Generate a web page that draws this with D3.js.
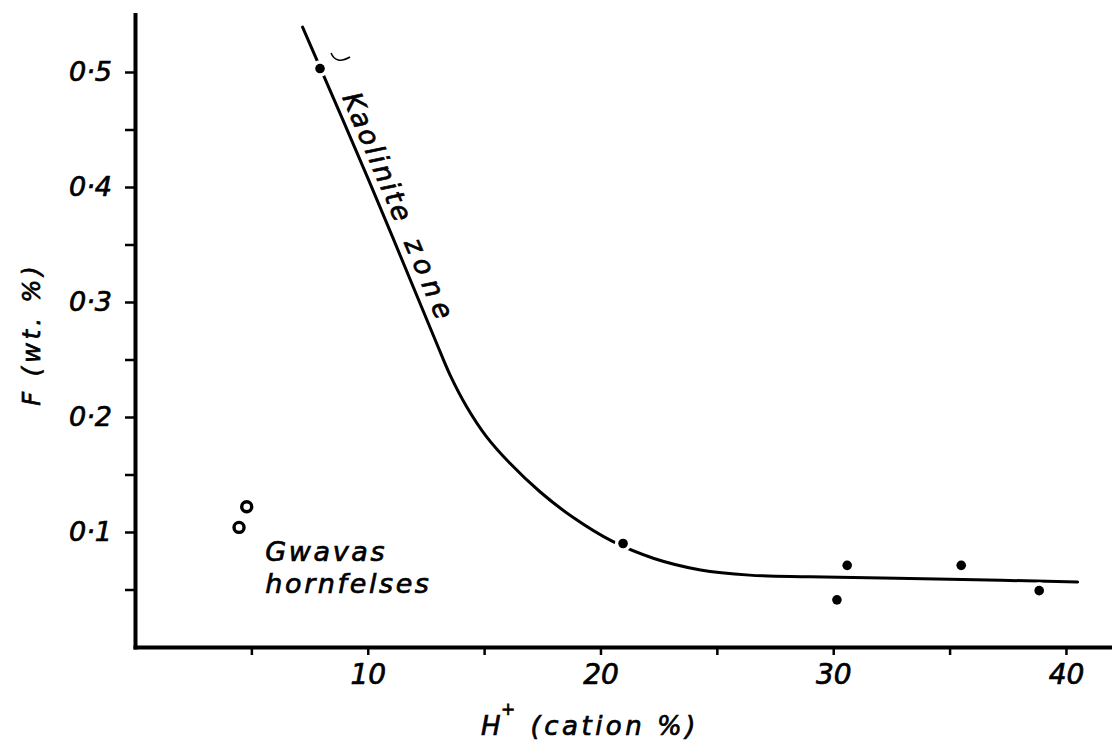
<!DOCTYPE html>
<html>
<head>
<meta charset="utf-8">
<script src="https://cdn.jsdelivr.net/npm/d3@7"></script>
<style>
  body { margin: 0; background: #fff; }
  svg { display: block; }
  text { font-family: "DejaVu Sans", sans-serif; font-style: italic; fill: #000; stroke: #000; stroke-width: 0.7px; }
</style>
</head>
<body>
<div id="chart"></div>
<script>
// Kaolinite zone samples, H+ (cation %) vs F (wt. %)
var kaolH = [7.95, 20.97, 30.6, 30.16, 35.5, 38.85];
var kaolF = [0.503, 0.090, 0.071, 0.041, 0.071, 0.049];

// Gwavas hornfelses (open circles)
var gwavasH = [4.8, 4.47];
var gwavasF = [0.122, 0.104];

// hand-drawn trend curve
var curveH = [7.2, 10.0, 12.9, 13.55, 14.25, 15.1, 16.1, 17.4, 18.8, 20.5, 22.3, 24.3, 26.4, 29.0, 35.0, 40.5];
var curveF = [0.539, 0.408, 0.267, 0.236, 0.209, 0.183, 0.160, 0.135, 0.113, 0.092, 0.077, 0.067, 0.0625, 0.061, 0.059, 0.0565];

var xTicks = [5, 10, 15, 20, 25, 30, 35, 40];
var xLabels = {10: '10', 20: '20', 30: '30', 40: '40'};
var yTicks = [0.05, 0.1, 0.15, 0.2, 0.25, 0.3, 0.35, 0.4, 0.45, 0.5];
var yLabels = {0.1: '0\u00b71', 0.2: '0\u00b72', 0.3: '0\u00b73', 0.4: '0\u00b74', 0.5: '0\u00b75'};

var W = 1112, H = 747;

var svg = d3.select('#chart').append('svg')
    .attr('width', W).attr('height', H);
svg.append('rect').attr('width', W).attr('height', H).attr('fill', '#fff');

var x = d3.scaleLinear().domain([0, 42]).range([135, 1112.5]);
var y = d3.scaleLinear().domain([0, 0.55]).range([647, 14.5]);

// axes
var xAxis = d3.axisBottom(x)
    .tickValues(xTicks)
    .tickSize(8).tickSizeOuter(0).tickPadding(9)
    .tickFormat(function(d) { return xLabels[d] || ''; });
var gx = svg.append('g').attr('transform', 'translate(0,' + y(0) + ')').call(xAxis);

var yAxis = d3.axisLeft(y)
    .tickValues(yTicks)
    .tickSize(10).tickSizeOuter(0).tickPadding(13)
    .tickFormat(function(d) { return yLabels[+d.toFixed(2)] || ''; });
var gy = svg.append('g').attr('transform', 'translate(' + x(0) + ',0)').call(yAxis);

[gx, gy].forEach(function(g) {
    g.select('.domain').attr('stroke', '#000').attr('stroke-width', 4).attr('stroke-linecap', 'square');
    g.selectAll('.tick line').attr('stroke', '#000').attr('stroke-width', 2.5);
    g.selectAll('.tick text')
        .attr('font-family', '"DejaVu Sans", sans-serif')
        .attr('font-style', 'italic').attr('fill', '#000');
});
gx.selectAll('.tick text').attr('font-size', 28);
gy.selectAll('.tick text').attr('font-size', 27);

// axis titles
var xt = svg.append('text')
    .attr('x', 481).attr('y', 735)
    .attr('font-size', 26).attr('letter-spacing', 3.5);
xt.append('tspan').text('H');
xt.append('tspan').attr('dx', -3).attr('dy', -20).attr('font-size', 17).text('+');
xt.append('tspan').attr('dy', 20).text(' (cation %)');

svg.append('text')
    .attr('transform', 'translate(40,334) rotate(-90)')
    .attr('text-anchor', 'middle')
    .attr('font-size', 24).attr('letter-spacing', 4)
    .text('F (wt. %)');

// trend curve
var curvePts = curveH.map(function(h, i) { return [h, curveF[i]]; });
var line = d3.line()
    .x(function(d) { return x(d[0]); })
    .y(function(d) { return y(d[1]); })
    .curve(d3.curveCatmullRom.alpha(0.5));
svg.append('path')
    .datum(curvePts)
    .attr('d', line)
    .attr('fill', 'none')
    .attr('stroke', '#000')
    .attr('stroke-width', 3)
    .attr('stroke-linecap', 'round');

// filled points, white halo breaks the curve like the pen gaps
svg.selectAll('circle.kaol')
    .data(kaolH.map(function(h, i) { return [h, kaolF[i]]; }))
    .enter().append('circle')
    .attr('class', 'kaol')
    .attr('cx', function(d) { return x(d[0]); })
    .attr('cy', function(d) { return y(d[1]); })
    .attr('r', 4.8)
    .attr('fill', '#000')
    .attr('stroke', '#fff')
    .attr('stroke-width', 7)
    .attr('paint-order', 'stroke');

// open circles
svg.selectAll('circle.gw')
    .data(gwavasH.map(function(h, i) { return [h, gwavasF[i]]; }))
    .enter().append('circle')
    .attr('class', 'gw')
    .attr('cx', function(d) { return x(d[0]); })
    .attr('cy', function(d) { return y(d[1]); })
    .attr('r', 5)
    .attr('fill', '#fff')
    .attr('stroke', '#000')
    .attr('stroke-width', 3.4);

// Gwavas label
var gl = svg.append('text')
    .attr('x', x(5.6)).attr('y', 561)
    .attr('font-size', 27).attr('letter-spacing', 2.6);
gl.append('tspan').attr('x', x(5.6)).text('Gwavas');
gl.append('tspan').attr('x', x(5.6)).attr('dy', 32).text('hornfelses');

// Kaolinite zone label along the straight part of the curve
var p0 = [x(curveH[0]), y(curveF[0])], p1 = [x(curveH[2]), y(curveF[2])];
var ang = Math.atan2(p1[1] - p0[1], p1[0] - p0[0]) * 180 / Math.PI;
var ux = (p1[0] - p0[0]), uy = (p1[1] - p0[1]);
var len = Math.sqrt(ux * ux + uy * uy); ux /= len; uy /= len;
// offset to the right-hand side of the line
function along(s, off) { return [p0[0] + ux * s + uy * off, p0[1] + uy * s - ux * off]; }

var kStart = along(80, 9);
svg.append('text')
    .attr('transform', 'translate(' + kStart[0] + ',' + kStart[1] + ') rotate(' + ang + ')')
    .attr('font-size', 27)
    .attr('textLength', 137).attr('lengthAdjust', 'spacing')
    .text('Kaolinite');
var zStart = along(238, 9);
svg.append('text')
    .attr('transform', 'translate(' + zStart[0] + ',' + zStart[1] + ') rotate(' + ang + ')')
    .attr('font-size', 27)
    .attr('textLength', 85).attr('lengthAdjust', 'spacing')
    .text('zone');

// small stray pen hook near top point
var hx = x(8.81), hy = y(0.513);
var hp = d3.path();
hp.moveTo(hx - 9, hy - 4);
hp.quadraticCurveTo(hx - 4, hy + 8, hx + 10, hy);
svg.append('path').attr('d', hp.toString())
    .attr('fill', 'none').attr('stroke', '#000').attr('stroke-width', 1.6);
</script>
</body>
</html>
